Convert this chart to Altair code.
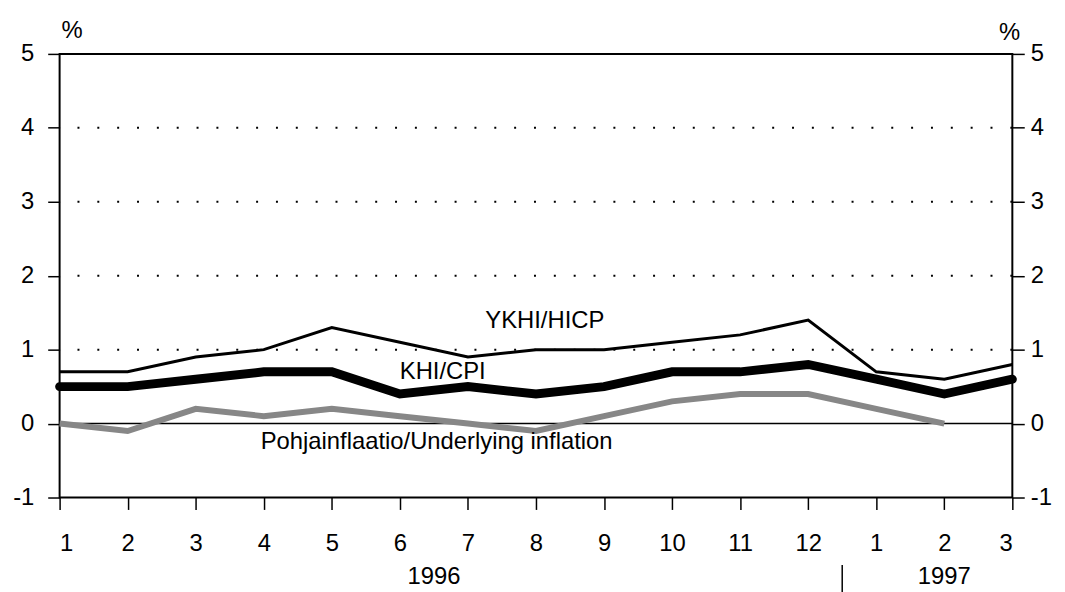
import json
import altair as alt
import pandas as pd

FONT = "Liberation Sans, Arial, sans-serif"

month_labels = ["1", "2", "3", "4", "5", "6", "7", "8", "9", "10", "11", "12", "1", "2", "3"]
years = ["1996"] * 12 + ["1997"] * 3
hicp = [0.7, 0.7, 0.9, 1.0, 1.3, 1.1, 0.9, 1.0, 1.0, 1.1, 1.2, 1.4, 0.7, 0.6, 0.8]
cpi = [0.5, 0.5, 0.6, 0.7, 0.7, 0.4, 0.5, 0.4, 0.5, 0.7, 0.7, 0.8, 0.6, 0.4, 0.6]
underlying = [0.0, -0.1, 0.2, 0.1, 0.2, 0.1, 0.0, -0.1, 0.1, 0.3, 0.4, 0.4, 0.2, 0.0, None]

grid_values = [1, 2, 3, 4]
y_ticks = [-1, 0, 1, 2, 3, 4, 5]

label_texts = ["YKHI/HICP", "KHI/CPI", "Pohjainflaatio/Underlying inflation"]
label_x = [8.13, 6.63, 6.54]
label_y = [1.38, 0.70, -0.25]

idx = list(range(1, len(month_labels) + 1))
df = pd.DataFrame({"i": idx, "hicp": hicp, "cpi": cpi, "und": underlying, "year": years})

xscale = alt.Scale(domain=[1, 15], nice=False, zero=False)
yscale = alt.Scale(domain=[-1, 5], nice=False, zero=False)

label_expr = json.dumps(month_labels) + "[datum.value - 1]"

x_axis = alt.Axis(values=idx, labelExpr=label_expr, title=None, tickSize=12,
                  tickColor="black", tickWidth=1.5, domain=False, grid=False,
                  labelFont=FONT, labelFontSize=24, labelColor="black", labelPadding=22)
y_left = alt.Axis(values=y_ticks, labelExpr="'' + datum.value", title=None, orient="left",
                  tickSize=12, tickColor="black", tickWidth=1.5, domain=False, grid=False,
                  labelFont=FONT, labelFontSize=24, labelColor="black", labelPadding=14)
y_right = alt.Axis(values=y_ticks, labelExpr="'' + datum.value", title=None, orient="right",
                   tickSize=12, tickColor="black", tickWidth=1.5, domain=False, grid=False,
                   labelFont=FONT, labelFontSize=24, labelColor="black", labelPadding=6)


def X(field):
    return alt.X(field, scale=xscale, axis=x_axis)


def Y(field):
    return alt.Y(field, scale=yscale, axis=y_left)


base = alt.Chart(df)

grid = alt.Chart(pd.DataFrame({"v": grid_values})).mark_rule(
    color="black", strokeWidth=2, strokeDash=[2, 18]
).encode(y=Y("v:Q"))

zero = alt.Chart(pd.DataFrame({"v": [0]})).mark_rule(color="black", strokeWidth=1.5).encode(
    y=Y("v:Q"))

und_line = base.transform_filter("isValid(datum.und)").mark_line(
    color="#878787", strokeWidth=6).encode(x=X("i:Q"), y=Y("und:Q"))

hicp_line = base.mark_line(color="black", strokeWidth=3).encode(x=X("i:Q"), y=Y("hicp:Q"))

cpi_line = base.mark_line(color="black", strokeWidth=9, strokeCap="round").encode(
    x=X("i:Q"), y=Y("cpi:Q"))

labels = alt.Chart(pd.DataFrame({"t": label_texts, "x": label_x, "y": label_y})).mark_text(
    font=FONT, fontSize=24, color="black", align="center", baseline="middle").encode(
    x=X("x:Q"), y=Y("y:Q"), text="t:N")

year_labels = base.transform_aggregate(c="mean(i)", groupby=["year"]).mark_text(
    font=FONT, fontSize=24, color="black", align="center", baseline="middle").encode(
    x=X("c:Q"), y=alt.value(527), text="year:N")

sep = base.transform_aggregate(m="max(i)", groupby=["year"]).transform_filter(
    "datum.year == '1996'").transform_calculate(s="datum.m + 0.5").mark_rule(
    color="black", strokeWidth=1.5).encode(
    x=X("s:Q"), y=alt.value(515), y2=alt.value(545))

pct_left = alt.Chart(pd.DataFrame({"t": ["%"]})).mark_text(
    font=FONT, fontSize=24, color="black", align="left", baseline="middle").encode(
    x=alt.value(2), y=alt.value(-23), text="t:N")
pct_right = alt.Chart(pd.DataFrame({"t": ["%"]})).mark_text(
    font=FONT, fontSize=24, color="black", align="right", baseline="middle").encode(
    x=alt.value(968), y=alt.value(-21), text="t:N")

right_axis = alt.Chart(pd.DataFrame({"v": [0]})).mark_rule(opacity=0).encode(
    y=alt.Y("v:Q", scale=yscale, axis=y_right))

main = alt.layer(grid, zero, und_line, hicp_line, cpi_line, labels, year_labels, sep,
                 pct_left, pct_right)

chart = alt.layer(main, right_axis).resolve_scale(y="independent").properties(
    width=960, height=447,
    autosize=alt.AutoSizeParams(type="none"),
    padding={"left": 52, "top": 44, "right": 45, "bottom": 100},
).configure(background="white").configure_view(stroke="black", strokeWidth=2)

chart.save("out.html", embed_options={"renderer": "svg", "actions": False})
